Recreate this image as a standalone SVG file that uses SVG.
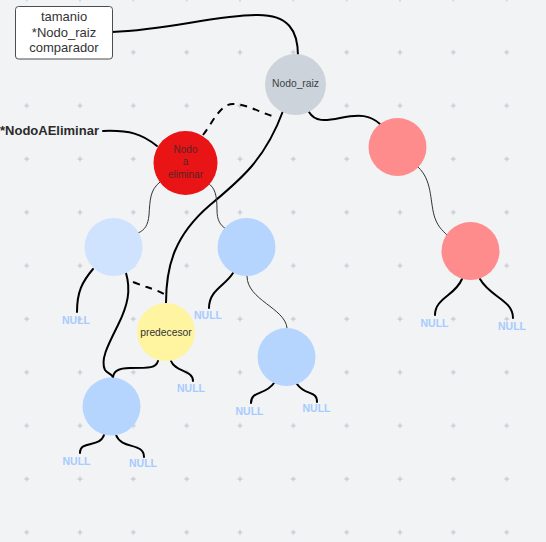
<svg xmlns="http://www.w3.org/2000/svg" width="546" height="542" viewBox="0 0 546 542">
  <style>
    .bg { fill: #f2f3f5; }
    .plus { stroke: #bcc0c5; stroke-width: 1; }
    .node { stroke: none; }
    .lbl { font-family: "Liberation Sans", Arial, sans-serif; text-anchor: middle; }
    .null { font-family: "Liberation Sans", Arial, sans-serif; font-size: 10.5px; font-weight: bold; fill: #a6cbff; text-anchor: middle; }
    .thick { fill: none; stroke: #000; stroke-width: 2; stroke-linecap: round; }
    .thin { fill: none; stroke: #333; stroke-width: 1; }
    .dash { fill: none; stroke: #000; stroke-width: 2; stroke-dasharray: 7 6; }
  </style>
  <defs>
    <pattern id="grid" patternUnits="userSpaceOnUse" x="0" y="-27.67" width="53.333" height="53.333">
      <path class="plus" d="M24.17,26.67 h5 M26.67,24.17 v5"/>
    </pattern>
  </defs>

  <rect class="bg" x="0" y="0" width="546" height="542"/>
  <rect x="0" y="0" width="546" height="542" fill="url(#grid)"/>

  <!-- connectors -->
  <g id="connectors">
    <path class="thick" d="M112,32 C170,30 215,15 258,15 C288,15 298,30 298,56"/>
    <path class="thick" d="M103,131 C130,130 142,134 157,146"/>
    <path class="dash" d="M203,135 C213,122 220,104 233,104 C248,104 262,114 276,117"/>
    <path class="thick" d="M283,111 C265,160 240,180 210,205 C175,235 166,265 166,303"/>
    <path class="thick" d="M309,112 C315,122 325,121 340,118 C360,114 370,115 380,124"/>
    <path class="thin" d="M418,167 C432,180 430,200 434,215 C437,226 442,230 447,235"/>
    <path class="thick" d="M462,279 C455,296 435,298 435,315"/>
    <path class="thick" d="M480,279 C490,297 513,300 513,318"/>
    <path class="thin" d="M160,182 C150,190 150,200 149,215 C148,225 145,230 138,233"/>
    <path class="thin" d="M208,183 C215,188 217,195 217,210 C217,220 220,225 226,229"/>
    <path class="thick" d="M93,269 C82,282 77,292 77,312"/>
    <path class="thick" d="M126,273 C131,290 128,305 118,325 C108,345 100,360 105,370 C108,374 113,374 113,378"/>
    <path class="dash" d="M133,282 C145,287 155,289 164,294"/>
    <path class="thick" d="M158,361 C156,368 150,368 130,368 C118,368 113,372 113,378"/>
    <path class="thick" d="M171,361 C175,372 193,370 193,381"/>
    <path class="thick" d="M233,273 C225,286 209,290 209,308"/>
    <path class="thin" d="M247,276 C247,300 285,308 287,328"/>
    <path class="thick" d="M274,383 C265,396 251,390 251,403"/>
    <path class="thick" d="M297,384 C305,396 317,390 317,402"/>
    <path class="thick" d="M104,435 C100,448 80,440 80,453"/>
    <path class="thick" d="M116,435 C122,450 144,442 144,457"/>
  </g>

  <!-- header box -->
  <g id="header">
    <rect x="15.5" y="6.5" width="97" height="52.5" rx="3" fill="#fff" stroke="#4d4d4d" stroke-width="1"/>
    <text class="lbl" font-size="13" fill="#333" x="64" y="20.5">tamanio</text>
    <text class="lbl" font-size="13" fill="#333" x="64" y="36.5">*Nodo_raiz</text>
    <text class="lbl" font-size="13" fill="#333" x="64" y="52">comparador</text>
  </g>

  <g id="label-nodoAEliminar">
    <text x="0" y="134.5" font-family="'Liberation Sans', Arial, sans-serif" font-size="13" font-weight="bold" fill="#2b2b2b">*NodoAEliminar</text>
  </g>

  <!-- tree nodes -->
  <g id="nodo-raiz">
    <circle class="node" cx="295.5" cy="84.5" r="30.5" fill="#cdd3da"/>
    <text class="lbl" font-size="10.3" fill="#3a3f45" x="295.5" y="87">Nodo_raiz</text>
  </g>
  <g id="nodo-a-eliminar">
    <circle class="node" cx="185.5" cy="163" r="32" fill="#e81416"/>
    <text class="lbl" font-size="10" fill="#5a2424" x="185.5" y="152.5">Nodo</text>
    <text class="lbl" font-size="10" fill="#5a2424" x="185.5" y="165">a</text>
    <text class="lbl" font-size="10" fill="#5a2424" x="185.5" y="177.5">eliminar</text>
  </g>
  <g id="nodo-izq">
    <circle class="node" cx="113.5" cy="247" r="29" fill="#cfe3ff"/>
  </g>
  <g id="nodo-der">
    <circle class="node" cx="246.5" cy="247" r="29" fill="#b5d5ff"/>
  </g>
  <g id="predecesor">
    <circle class="node" cx="166" cy="332" r="29" fill="#fff5a0"/>
    <text class="lbl" font-size="10.3" fill="#333" x="166" y="335.5">predecesor</text>
  </g>
  <g id="nodo-izq-hijo">
    <circle class="node" cx="111.5" cy="406.5" r="29" fill="#b5d5ff"/>
  </g>
  <g id="nodo-der-hijo">
    <circle class="node" cx="286.5" cy="357" r="29" fill="#b5d5ff"/>
  </g>
  <g id="nodo-rojo-1">
    <circle class="node" cx="397.5" cy="147" r="29" fill="#ff8c8c"/>
  </g>
  <g id="nodo-rojo-2">
    <circle class="node" cx="470.5" cy="251" r="29" fill="#ff8c8c"/>
  </g>

  <!-- NULL leaves -->
  <g id="nulls">
    <text class="null" x="76" y="324">NULL</text>
    <text class="null" x="208" y="319">NULL</text>
    <text class="null" x="191" y="392">NULL</text>
    <text class="null" x="76.5" y="465">NULL</text>
    <text class="null" x="143" y="467">NULL</text>
    <text class="null" x="249.5" y="415">NULL</text>
    <text class="null" x="316.5" y="412">NULL</text>
    <text class="null" x="434.5" y="327">NULL</text>
    <text class="null" x="512" y="330">NULL</text>
  </g>
</svg>
